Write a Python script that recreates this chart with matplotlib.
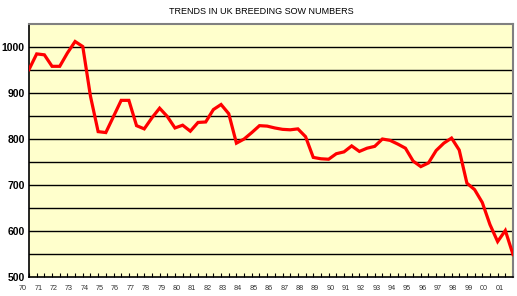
import matplotlib
matplotlib.use("Agg")
import matplotlib.pyplot as plt
from matplotlib.transforms import ScaledTranslation
import numpy as np

title = "TRENDS IN UK BREEDING SOW NUMBERS"
year_labels = ["70", "71", "72", "73", "74", "75", "76", "77", "78", "79",
               "80", "81", "82", "83", "84", "85", "86", "87", "88", "89",
               "90", "91", "92", "93", "94", "95", "96", "97", "98", "99",
               "00", "01"]
# half-yearly breeding sow numbers (thousands)
sows = [951, 985, 983, 958, 958, 987, 1012, 1001, 893, 816,
        814, 849, 884, 884, 829, 822, 846, 867, 849, 824,
        830, 817, 836, 837, 864, 875, 855, 791, 800, 814,
        829, 828, 824, 821, 820, 822, 805, 760, 757, 756,
        768, 772, 785, 773, 780, 784, 800, 797, 789, 780,
        752, 740, 748, 775, 791, 802, 776, 704, 690, 662,
        614, 577, 601, 549]

plt.rcParams['font.family'] = ['Liberation Sans', 'DejaVu Sans']

fig = plt.figure(figsize=(5.17, 2.96), dpi=100)
fig.patch.set_facecolor('white')
ax = fig.add_axes([29/517, 19/296, 484/517, 253/296])
ax.set_facecolor('#FFFFCC')

x = np.arange(len(sows))
ax.plot(x, sows, color='#FF0000', lw=2.3, solid_joinstyle='miter', zorder=3)

ax.set_xlim(0, len(sows) - 1)
ax.set_ylim(500, 1050)

for yv in range(550, 1001, 50):
    ax.axhline(yv, color='black', lw=1.0, zorder=1)

ax.set_yticks(range(500, 1001, 100))
ax.set_yticklabels([str(v) for v in range(500, 1001, 100)],
                   fontsize=7.5, fontweight='bold')
ax.tick_params(axis='y', length=0, pad=3)

ax.set_xticks(np.arange(0, len(sows), 1), minor=True)
ax.set_xticks(np.arange(0, 2 * len(year_labels), 2))
ax.set_xticklabels(year_labels, fontsize=5.2, color='#333333')
ax.tick_params(axis='x', which='both', direction='in', length=3,
               width=0.8, color='black', pad=6)
off = ScaledTranslation(-6/100, 0, fig.dpi_scale_trans)
for lab in ax.get_xticklabels():
    lab.set_transform(lab.get_transform() + off)

for s in ['left', 'bottom']:
    ax.spines[s].set_color('black')
    ax.spines[s].set_linewidth(1.2)
for s in ['top', 'right']:
    ax.spines[s].set_color('#808080')
    ax.spines[s].set_linewidth(1.5)

fig.text(261/517, 1 - 11/296, title, ha='center', va='center',
         fontsize=6.5, color='black')

fig.savefig('out.png', dpi=100, facecolor='white')
